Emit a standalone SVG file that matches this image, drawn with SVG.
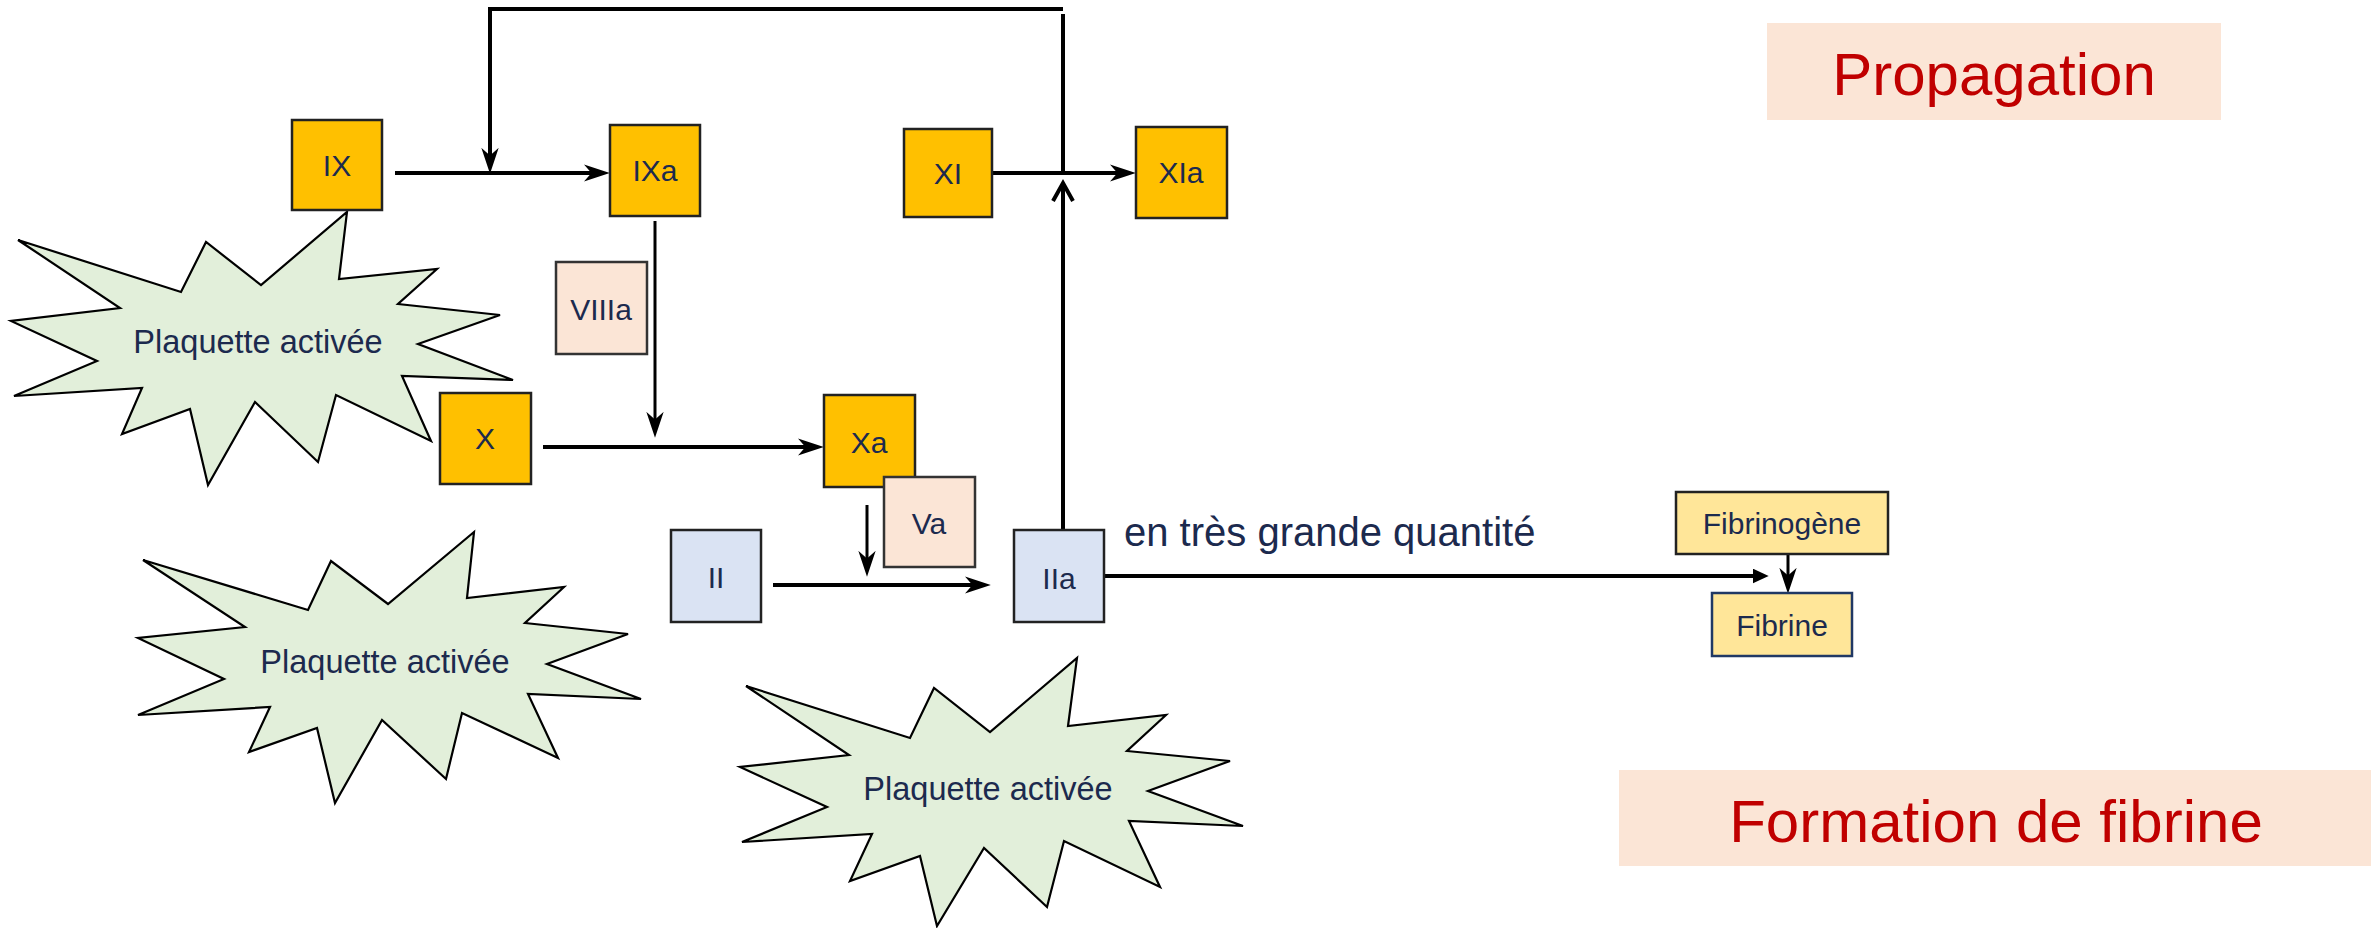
<svg xmlns="http://www.w3.org/2000/svg" width="2379" height="928" viewBox="0 0 2379 928">
<defs>
<style>
.txt{font-family:"Liberation Sans",Arial,sans-serif;fill:#1c2a4e;text-anchor:middle}
.lbl{font-size:30px}
.plq{font-size:32.5px}
.title{font-family:"Liberation Sans",Arial,sans-serif;fill:#c00000;font-size:60px;text-anchor:middle}
.fac{fill:#ffc000;stroke:#222;stroke-width:2.5}
.cof{fill:#fbe5d6;stroke:#333;stroke-width:2.5}
.pro{fill:#dae3f3;stroke:#222;stroke-width:2.5}
.fib{fill:#ffe699;stroke:#222;stroke-width:2.5}
.star{fill:#e2efda;stroke:#000;stroke-width:2.2;stroke-linejoin:miter}
.ln{fill:none;stroke:#000;stroke-width:4}
.ln3{fill:none;stroke:#000;stroke-width:3}
</style>
<marker id="stealth" markerUnits="userSpaceOnUse" markerWidth="26" markerHeight="18" viewBox="0 0 24 16" refX="14" refY="8" orient="auto">
<path d="M0,0 L24,8 L0,16 L7,8 Z" fill="#000"/>
</marker>
<marker id="tri" markerUnits="userSpaceOnUse" markerWidth="16" markerHeight="15" viewBox="0 0 15 14" refX="5" refY="7" orient="auto">
<path d="M0,0 L15,7 L0,14 Z" fill="#000"/>
</marker>
</defs>
<rect width="2379" height="928" fill="#fff"/>

<g id="labels">
<g id="propagation"><rect x="1767" y="23" width="454" height="97" fill="#fbe5d6"/><text class="title" x="1994" y="95">Propagation</text></g>
<g id="formation"><rect x="1619" y="770" width="752" height="96" fill="#fbe5d6"/><text class="title" x="1996" y="842">Formation de fibrine</text></g>
</g>

<g id="platelet1"><polygon class="star" points="18,240 181,292 206,242 261,285 347,212 339,279 437,269 398,304 500,315 418,344 513,380 402,376 431,441 336,395 318,462 255,402 208,485 190,409 122,434 142,388 14,396 97,361 11,321 120,308"/><text class="txt plq" x="258" y="353">Plaquette activée</text></g>
<g id="platelet2"><polygon class="star" points="143,560 308,610 331,561 388,604 474,532 467,598 564,587 525,623 628,634 547,664 641,699 528,694 558,758 462,713 446,779 382,720 335,803 317,728 249,752 270,707 138,715 224,679 138,638 245,627"/><text class="txt plq" x="385" y="673">Plaquette activée</text></g>
<g id="platelet3"><polygon class="star" points="746,686 910,738 934,688 990,732 1077,658 1068,726 1166,715 1127,751 1230,761 1148,791 1243,826 1129,821 1160,887 1064,841 1047,907 984,848 937,926 920,856 850,881 872,834 742,842 827,807 740,767 849,755"/><text class="txt plq" x="988" y="800">Plaquette activée</text></g>

<g id="connectors">
<path class="ln" d="M1063,9 H490 V163" marker-end="url(#stealth)"/>
<line class="ln" x1="1063" y1="14" x2="1063" y2="173"/>
<line class="ln" x1="395" y1="173" x2="599" y2="173" marker-end="url(#stealth)"/>
<line class="ln" x1="992" y1="173" x2="1125" y2="173" marker-end="url(#stealth)"/>
<line class="ln" x1="1063" y1="530" x2="1063" y2="184"/>
<polyline class="ln" points="1053,201 1063,183 1073,201"/>
<line class="ln3" x1="655" y1="221" x2="655" y2="427" marker-end="url(#stealth)"/>
<line class="ln" x1="543" y1="447" x2="813" y2="447" marker-end="url(#stealth)"/>
<line class="ln3" x1="867" y1="505" x2="867" y2="566" marker-end="url(#stealth)"/>
<line class="ln" x1="773" y1="585" x2="980" y2="585" marker-end="url(#stealth)"/>
<line class="ln" x1="1104" y1="576" x2="1758" y2="576" marker-end="url(#tri)"/>
<line class="ln3" x1="1788" y1="554" x2="1788" y2="583" marker-end="url(#stealth)"/>
</g>

<g id="IX"><rect class="fac" x="292" y="120" width="90" height="90"/><text class="txt lbl" x="337" y="176">IX</text></g>
<g id="IXa"><rect class="fac" x="610" y="125" width="90" height="91"/><text class="txt lbl" x="655" y="181">IXa</text></g>
<g id="XI"><rect class="fac" x="904" y="129" width="88" height="88"/><text class="txt lbl" x="948" y="184">XI</text></g>
<g id="XIa"><rect class="fac" x="1136" y="127" width="91" height="91"/><text class="txt lbl" x="1181" y="183">XIa</text></g>
<g id="VIIIa"><rect class="cof" x="556" y="262" width="91" height="92"/><text class="txt lbl" x="601" y="320">VIIIa</text></g>
<g id="X"><rect class="fac" x="440" y="393" width="91" height="91"/><text class="txt lbl" x="485" y="449">X</text></g>
<g id="Xa"><rect class="fac" x="824" y="395" width="91" height="92"/><text class="txt lbl" x="869" y="453">Xa</text></g>
<g id="Va"><rect class="cof" x="884" y="477" width="91" height="90"/><text class="txt lbl" x="929" y="534">Va</text></g>
<g id="II"><rect class="pro" x="671" y="530" width="90" height="92"/><text class="txt lbl" x="716" y="588">II</text></g>
<g id="IIa"><rect class="pro" x="1014" y="530" width="90" height="92"/><text class="txt lbl" x="1059" y="589">IIa</text></g>
<g id="fibrinogene"><rect class="fib" x="1676" y="492" width="212" height="62"/><text class="txt lbl" x="1782" y="534">Fibrinogène</text></g>
<g id="fibrine"><rect class="fib" x="1712" y="593" width="140" height="63" style="stroke:#203864"/><text class="txt lbl" x="1782" y="636">Fibrine</text></g>

<g id="quantity"><text class="txt" x="1124" y="546" style="font-size:40px;text-anchor:start">en très grande quantité</text></g>
</svg>
